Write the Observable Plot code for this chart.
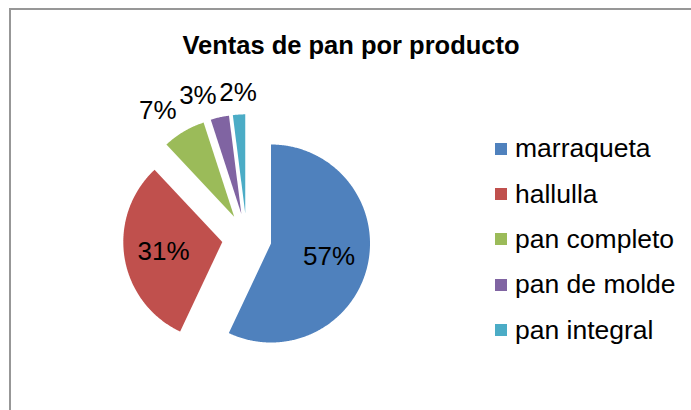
<!DOCTYPE html>
<html>
<head>
<meta charset="utf-8">
<script src="https://cdn.jsdelivr.net/npm/d3@7"></script>
<script src="https://cdn.jsdelivr.net/npm/@observablehq/plot@0.6"></script>
<style>
  html, body { margin: 0; padding: 0; background: #fff; }
  #page { position: relative; width: 691px; height: 410px; overflow: hidden; font-family: "Liberation Sans", Arial, sans-serif; }
  #border { position: absolute; left: 9px; top: 8px; width: 800px; height: 600px; border: 2px solid #979797; box-sizing: border-box; }
  #title { position: absolute; left: 11px; width: 680px; top: 30px; text-align: center; font-weight: bold; font-size: 25.5px; line-height: 30px; color: #000; }
  #chart { position: absolute; left: 0; top: 0; }
  #legend { position: absolute; left: 495px; top: 126px; }
  .lg-swatches { font-family: "Liberation Sans", Arial, sans-serif !important; font-size: 26.5px !important; color: #000 !important; }
  .lg-swatch { height: 45.4px; padding-bottom: 0 !important; }
  .lg-swatch svg { margin-right: 8px !important; }
</style>
</head>
<body>
<div id="page">
  <div id="border"></div>
  <div id="chart"></div>
  <div id="title">Ventas de pan por producto</div>
  <div id="legend"></div>
</div>
<script>
// ---- data ----
const categories = ["marraqueta", "hallulla", "pan completo", "pan de molde", "pan integral"];
const values = [57, 31, 7, 3, 2];
const labels = ["57%", "31%", "7%", "3%", "2%"];
const colors = ["#4F81BD", "#C0504D", "#9BBB59", "#8064A2", "#4BACC6"];

// ---- layout ----
const W = 691, H = 410;
const cx = 246.3, cy = 237.6;   // pie centre (px)
const R = 99;                    // radius
const explode = 24.8;            // explosion distance (25% of R)

const rows = categories.map((c, i) => ({cat: c, value: values[i], label: labels[i]}));
const arcs = d3.pie().sort(null).value(d => d.value)(rows);

const pts = [];
const labelPts = [];
for (const s of arcs) {
  const mid = (s.startAngle + s.endAngle) / 2;
  const ox = cx + explode * Math.sin(mid), oy = cy - explode * Math.cos(mid);
  pts.push({cat: s.data.cat, x: ox, y: oy});
  const n = Math.max(4, Math.ceil((s.endAngle - s.startAngle) / (Math.PI / 360)));
  for (let i = 0; i <= n; i++) {
    const a = s.startAngle + (s.endAngle - s.startAngle) * i / n;
    pts.push({cat: s.data.cat, x: ox + R * Math.sin(a), y: oy - R * Math.cos(a)});
  }
  const frac = s.data.value / d3.sum(values);
  const inside = frac > 0.15;
  const dist = inside ? 0.6 * R : R + 14;
  const sx = Math.sin(mid);
  labelPts.push({
    label: s.data.label,
    x: ox + dist * sx,
    y: oy - dist * Math.cos(mid),
    kind: inside ? "inside" : Math.abs(sx) < 0.15 ? "middle" : sx < 0 ? "end" : "start"
  });
}

const fs = 26;
const chart = Plot.plot({
  width: W,
  height: H,
  margin: 0,
  x: {domain: [0, W], range: [0, W], axis: null},
  y: {domain: [0, H], range: [0, H], axis: null},
  color: {domain: categories, range: colors},
  style: {fontFamily: "'Liberation Sans', Arial, sans-serif", background: "transparent"},
  marks: [
    Plot.line(pts, {x: "x", y: "y", z: "cat", fill: "cat", stroke: "none", curve: "linear-closed"}),
    Plot.text(labelPts.filter(d => d.kind === "inside"), {x: "x", y: "y", text: "label", fontSize: fs, fill: "#000", textAnchor: "middle", lineAnchor: "middle"}),
    Plot.text(labelPts.filter(d => d.kind === "end"), {x: "x", y: "y", text: "label", fontSize: fs, fill: "#000", textAnchor: "end", lineAnchor: "bottom"}),
    Plot.text(labelPts.filter(d => d.kind === "start"), {x: "x", y: "y", text: "label", fontSize: fs, fill: "#000", textAnchor: "start", lineAnchor: "bottom"}),
    Plot.text(labelPts.filter(d => d.kind === "middle"), {x: "x", y: "y", text: "label", fontSize: fs, fill: "#000", textAnchor: "middle", lineAnchor: "bottom"})
  ]
});
document.getElementById("chart").appendChild(chart);

const legend = chart.legend("color", {legend: "swatches", columns: 1, swatchSize: 12, className: "lg", width: 200});
document.getElementById("legend").appendChild(legend);
</script>
</body>
</html>
